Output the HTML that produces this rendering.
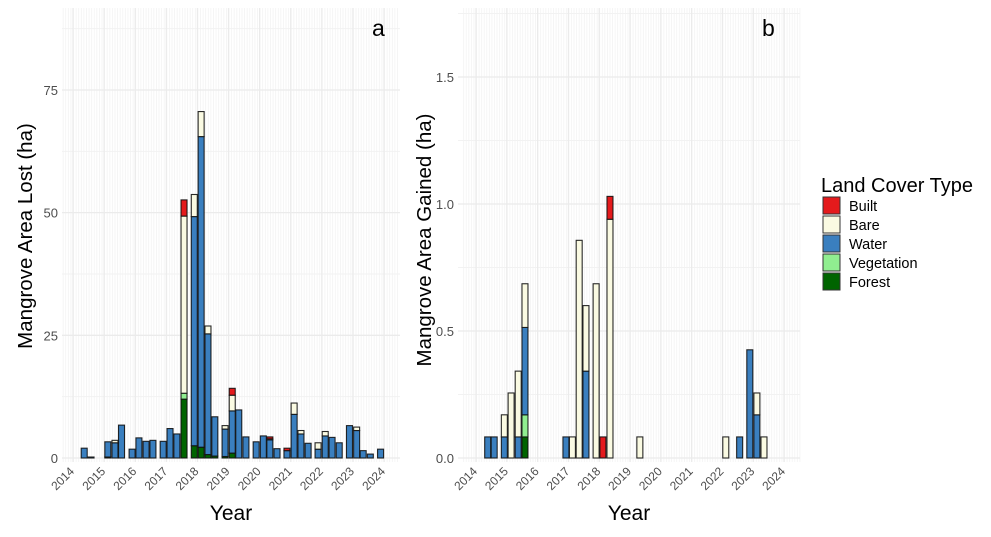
<!DOCTYPE html>
<html><head><meta charset="utf-8"><style>
body{margin:0;background:#fff;}
svg{display:block;font-family:"Liberation Sans",sans-serif;}
</style></head><body>
<svg id="c" width="991" height="537" viewBox="0 0 991 537"></svg>
<script>
const categories = ["Forest","Vegetation","Water","Bare","Built"];
const colors = {Forest:"#006400",Vegetation:"#90ee90",Water:"#3a7fbf",Bare:"#fafae2",Built:"#e41a1c"};
// Panel a: dates (decimal years) and stacked values [Forest,Vegetation,Water,Bare,Built]
const datesA = [2014.36,2014.58,2015.12,2015.35,2015.56,2015.9,2016.12,2016.35,2016.57,2016.9,2017.12,2017.34,2017.57,2017.9,2018.12,2018.34,2018.56,2018.89,2019.12,2019.33,2019.56,2019.89,2020.12,2020.33,2020.56,2020.88,2021.11,2021.33,2021.56,2021.88,2022.11,2022.33,2022.56,2022.89,2023.12,2023.33,2023.56,2023.89];
const forestA = [0,0,0.2,0,0,0,0,0,0,0,0,0,12.0,2.5,2.2,0.7,0.4,0.3,1.0,0,0,0,0,0,0,0,0,0,0,0,0,0,0,0,0,0,0,0];
const vegA    = [0,0,0,0,0,0,0,0,0,0,0,0,1.2,0,0,0,0,0,0,0,0,0,0,0,0,0,0,0,0,0,0,0,0,0,0,0,0,0];
const waterA  = [2.0,0.2,3.1,3.1,6.7,1.8,4.1,3.4,3.6,3.4,6.0,4.9,0,46.7,63.3,24.6,8.0,5.6,8.6,9.8,4.3,3.3,4.5,3.7,1.9,1.5,8.9,4.9,3.0,1.8,4.5,4.2,3.1,6.6,5.6,1.5,0.8,1.8];
const bareA   = [0,0,0,0.5,0,0,0,0,0,0,0,0,36.1,4.5,5.1,1.6,0,0.7,3.2,0,0,0,0,0.2,0,0,2.3,0.7,0,1.3,0.9,0,0,0,0.7,0,0,0];
const builtA  = [0,0,0,0,0,0,0,0,0,0,0,0,3.3,0,0,0,0,0,1.4,0,0,0,0,0.4,0,0.5,0,0,0,0,0,0,0,0,0,0,0,0];
const ticksA = [0,25,50,75];
// Panel b
const datesB = [2014.38,2014.59,2014.92,2015.14,2015.37,2015.59,2016.92,2017.13,2017.35,2017.57,2017.9,2018.12,2018.35,2019.32,2022.11,2022.56,2022.89,2023.12,2023.35];
const forestB = [0,0,0,0,0,0.083,0,0,0,0,0,0,0,0,0,0,0,0,0];
const vegB    = [0,0,0,0,0,0.087,0,0,0,0,0,0,0,0,0,0,0,0,0];
const waterB  = [0.083,0.083,0.083,0,0.083,0.344,0.083,0,0,0.342,0,0,0,0,0,0.083,0.426,0.17,0];
const bareB   = [0,0,0.087,0.256,0.259,0.172,0,0.083,0.857,0.258,0.686,0,0.94,0.083,0.083,0,0,0.086,0.083];
const builtB  = [0,0,0,0,0,0,0,0,0,0,0,0.083,0.09,0,0,0,0,0,0];
const ticksB = [0,0.5,1.0,1.5];
const years = [2014,2015,2016,2017,2018,2019,2020,2021,2022,2023,2024];

const NS="http://www.w3.org/2000/svg";
const svg=document.getElementById('c');
function mk(tag,attrs,parent){const e=document.createElementNS(NS,tag);for(const k in attrs)e.setAttribute(k,attrs[k]);(parent||svg).appendChild(e);return e;}

function panel(p){
  const g=mk('g',{});
  
  
  const x=v=>p.x0+(v-2014)*p.xs;
  const y=v=>p.base-v*p.ys;
  for(let m=0;m<=11*12;m++){const xv=2013.6+m/12; const px=x(xv); if(px<p.left||px>p.right)continue;
    mk('line',{x1:px,x2:px,y1:p.top,y2:p.bottom,stroke:'#f3f3f3','stroke-width':0.8},g);}
  for(let i=0;i<p.ticks.length;i++){const t=p.ticks[i];const mid=t+(p.ticks[1]-p.ticks[0])/2;
    const pm=y(mid); if(pm>p.top) mk('line',{x1:p.left,x2:p.right,y1:pm,y2:pm,stroke:'#f2f2f2','stroke-width':1},g);}
  for(const t of p.ticks){mk('line',{x1:p.left,x2:p.right,y1:y(t),y2:y(t),stroke:'#ebebeb','stroke-width':1.3},g);
    const lb=mk('text',{x:p.left-4,y:y(t)+5,'text-anchor':'end','font-size':13,fill:'#4d4d4d'},g);lb.textContent=p.fmt(t);
    
    }
  for(const yr of years){const px=x(yr);
    mk('line',{x1:px,x2:px,y1:p.top,y2:p.bottom,stroke:'#ebebeb','stroke-width':1.2},g);
    const lb=mk('text',{x:px+2,y:p.bottom+10,'text-anchor':'end','font-size':12,fill:'#4d4d4d',transform:`rotate(-45 ${px+2} ${p.bottom+10})`},g);lb.textContent=yr;
    
    }
  const series=[p.forest,p.veg,p.water,p.bare,p.built];
  p.dates.forEach((d,i)=>{let acc=0;const cx=x(d);
    series.forEach((s,k)=>{const v=s[i];if(!v)return;
      const r=mk('rect',{x:cx-3,y:y(acc+v),width:6,height:v*p.ys,fill:colors[categories[k]],stroke:'#111','stroke-opacity':0.9,'stroke-width':1.1},g);
      
      
      acc+=v;});
  });
  const lt=mk('text',{x:p.lx,y:36,'font-size':23,fill:'#000'},g);lt.textContent=p.letter;
  
  
  const xt=mk('text',{x:(p.left+p.right)/2,y:520,'text-anchor':'middle','font-size':21,fill:'#000'},g);xt.textContent='Year';
  
  
  const cy=p.tcy;
  const yt=mk('text',{x:p.ytx,y:cy,'text-anchor':'middle','font-size':20.5,fill:'#000',transform:`rotate(-90 ${p.ytx} ${cy})`},g);yt.textContent=p.ytitle;
  
  
}
panel({name:'panel-a',x0:73,xs:31.1,base:458,ys:4.907,left:62,right:400,top:8,bottom:462,ticks:ticksA,fmt:t=>String(t),tcy:236,
  dates:datesA,forest:forestA,veg:vegA,water:waterA,bare:bareA,built:builtA,letter:'a',lx:372,ytx:32,ytitle:'Mangrove Area Lost (ha)'});
panel({name:'panel-b',x0:476,xs:30.8,base:458,ys:254,left:458,right:800,top:8,bottom:462,ticks:ticksB,fmt:t=>t.toFixed(1),tcy:240,
  dates:datesB,forest:forestB,veg:vegB,water:waterB,bare:bareB,built:builtB,letter:'b',lx:762,ytx:431,ytitle:'Mangrove Area Gained (ha)'});

const lg=mk('g',{});


const lt=mk('text',{x:821,y:192,'font-size':20,fill:'#000'},lg);lt.textContent='Land Cover Type';
["Built","Bare","Water","Vegetation","Forest"].forEach((c,i)=>{
  const yy=197+i*19;
  const e=mk('g',{},lg);
  
  
  mk('rect',{x:823,y:yy,width:17,height:17,fill:colors[c],stroke:'#333','stroke-width':1},e);
  const t=mk('text',{x:849,y:yy+14,'font-size':14.5,fill:'#000'},e);t.textContent=c;
});
</script>
</body></html>
